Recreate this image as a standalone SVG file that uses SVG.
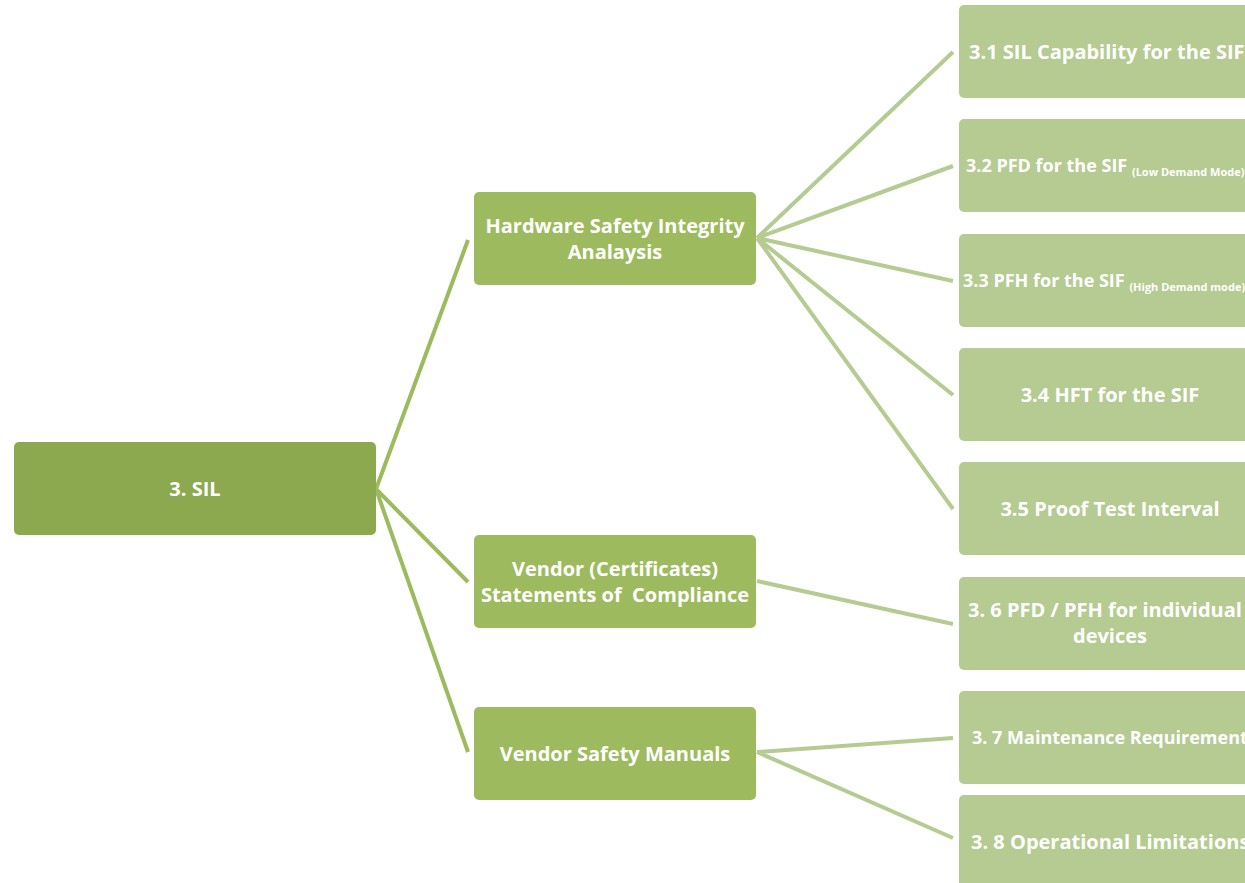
<svg xmlns="http://www.w3.org/2000/svg" width="1245" height="883" viewBox="0 0 1245 883">
<style>
.t{font-family:"Open Sans","Liberation Sans",sans-serif;font-weight:bold;fill:#fff;font-size:20px}
.m{text-anchor:middle}
.s{font-size:11px}
.c1{stroke:#9dbb5e;stroke-width:4;fill:none}
.c2{stroke:#b5cb91;stroke-width:4;fill:none}
.r0{fill:#8ca94f}
.r1{fill:#9dbb5e}
.r2{fill:#b5cb91}
</style>
<rect width="1245" height="883" fill="#fff"/>
<g id="connectors">
<path class="c1" d="M376 489L468 240M376 489L468 582M376 489L468 752"/>
<path class="c2" d="M757 238L953 52M757 238L953 166M757 238L953 281M757 238L953 395M757 238L953 509M757 581L953 624M757 752L953 738M757 752L953 838"/>
</g>
<g id="n0"><rect class="r0" x="14" y="442" width="362" height="93" rx="5"/><text class="t m" x="195" y="496">3. SIL</text></g>
<g id="n1"><rect class="r1" x="474" y="192" width="282" height="93" rx="5"/><text class="t m" x="615" y="233">Hardware Safety Integrity</text><text class="t m" x="615" y="259">Analaysis</text></g>
<g id="n2"><rect class="r1" x="474" y="535" width="282" height="93" rx="5"/><text class="t m" x="615" y="576">Vendor (Certificates)</text><text class="t m" x="615" y="602" xml:space="preserve">Statements of  Compliance</text></g>
<g id="n3"><rect class="r1" x="474" y="707" width="282" height="93" rx="5"/><text class="t m" x="615" y="761">Vendor Safety Manuals</text></g>
<g id="n31"><rect class="r2" x="959" y="5" width="302" height="93" rx="5"/><text class="t" x="969" y="59">3.1 SIL Capability for the SIF</text></g>
<g id="n32"><rect class="r2" x="959" y="119" width="302" height="93" rx="5"/><text class="t" x="966" y="172" style="font-size:18px">3.2 PFD for the SIF <tspan class="s" dy="4">(Low Demand Mode)</tspan></text></g>
<g id="n33"><rect class="r2" x="959" y="234" width="302" height="93" rx="5"/><text class="t" x="963" y="287" style="font-size:18px">3.3 PFH for the SIF <tspan class="s" dy="4">(High Demand mode)</tspan></text></g>
<g id="n34"><rect class="r2" x="959" y="348" width="302" height="93" rx="5"/><text class="t m" x="1110" y="402">3.4 HFT for the SIF</text></g>
<g id="n35"><rect class="r2" x="959" y="462" width="302" height="93" rx="5"/><text class="t m" x="1110" y="516">3.5 Proof Test Interval</text></g>
<g id="n36"><rect class="r2" x="959" y="577" width="302" height="93" rx="5"/><text class="t" x="968" y="617">3. 6 PFD / PFH for individual</text><text class="t m" x="1110" y="643">devices</text></g>
<g id="n37"><rect class="r2" x="959" y="691" width="302" height="93" rx="5"/><text class="t" x="972" y="744" style="font-size:18px">3. 7 Maintenance Requirements</text></g>
<g id="n38"><rect class="r2" x="959" y="795" width="302" height="93" rx="5"/><text class="t" x="971" y="849">3. 8 Operational Limitations</text></g>
</svg>
